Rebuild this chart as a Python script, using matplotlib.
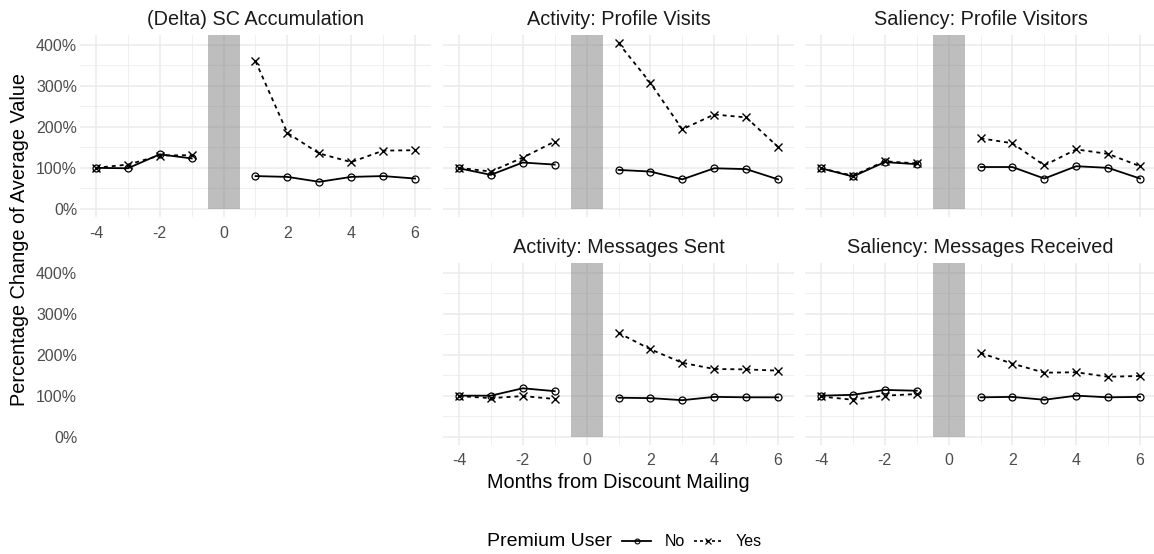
import matplotlib
matplotlib.use('Agg')
import matplotlib.pyplot as plt
from matplotlib.lines import Line2D
from matplotlib.patches import Rectangle
from matplotlib.ticker import FixedLocator, FuncFormatter

plt.rcParams['font.family'] = ['Liberation Sans', 'DejaVu Sans']
plt.rcParams['axes.unicode_minus'] = False

# ---------------- data ----------------
months = [-4, -3, -2, -1, 1, 2, 3, 4, 5, 6]
titles = ["(Delta) SC Accumulation", "Activity: Profile Visits",
          "Saliency: Profile Visitors", "Activity: Messages Sent",
          "Saliency: Messages Received"]

sc_no = [100, 99, 133, 123, 80, 78, 66, 78, 80, 74]
sc_yes = [100, 108, 130, 131, 360, 185, 135, 114, 142, 143]

visits_no = [99, 83, 113, 108, 95, 91, 72, 99, 97, 72]
visits_yes = [100, 91, 125, 164, 404, 307, 194, 230, 223, 151]

visitors_no = [99, 79, 114, 109, 102, 102, 74, 104, 100, 74]
visitors_yes = [99, 81, 116, 111, 172, 160, 106, 145, 134, 104]

sent_no = [100, 100, 118, 111, 95, 94, 89, 97, 96, 96]
sent_yes = [99, 94, 99, 92, 253, 213, 180, 165, 164, 161]

recv_no = [100, 102, 114, 112, 96, 97, 90, 100, 96, 97]
recv_yes = [98, 90, 100, 104, 204, 178, 156, 157, 146, 148]

series_no = [sc_no, visits_no, visitors_no, sent_no, recv_no]
series_yes = [sc_yes, visits_yes, visitors_yes, sent_yes, recv_yes]

x_ticks = [-4, -2, 0, 2, 4, 6]
y_ticks = [0, 100, 200, 300, 400]

# ---------------- layout ----------------
W, H = 1154, 554
fig = plt.figure(figsize=(W / 100, H / 100), dpi=100)

col_left = [80, 443, 805]
row_top = [34.8, 262.6]
pw, ph = 351, 182.4

def axrect(col, row):
    l = col_left[col]
    t = row_top[row]
    return [l / W, 1 - (t + ph) / H, pw / W, ph / H]

positions = [(0, 0), (1, 0), (2, 0), (1, 1), (2, 1)]
show_x = [True, False, False, True, True]
show_y = [True, False, False, False, False]

tick_color = '#4D4D4D'
grid_color = '#EBEBEB'
pct = FuncFormatter(lambda v, p: f"{int(round(v))}%")

xlim = (-4.5, 6.5)
ylim = (-20.2, 424.2)
dash = (0, (2.2, 2.2))

def style_axes(ax, showx, showy):
    ax.set_xlim(*xlim)
    ax.set_ylim(*ylim)
    for s in ax.spines.values():
        s.set_visible(False)
    ax.xaxis.set_major_locator(FixedLocator(x_ticks))
    ax.xaxis.set_minor_locator(FixedLocator([-3, -1, 1, 3, 5]))
    ax.yaxis.set_major_locator(FixedLocator(y_ticks))
    ax.yaxis.set_minor_locator(FixedLocator([50, 150, 250, 350]))
    ax.yaxis.set_major_formatter(pct)
    ax.grid(True, which='major', color=grid_color, lw=1.1, zorder=0)
    ax.grid(True, which='minor', color=grid_color, lw=0.55, zorder=0)
    ax.set_axisbelow(True)
    ax.tick_params(which='both', length=0, colors=tick_color, labelsize=11.5)
    ax.tick_params(axis='x', pad=6)
    ax.tick_params(axis='y', pad=2)
    if not showx:
        ax.tick_params(axis='x', labelbottom=False)
    if not showy:
        ax.tick_params(axis='y', labelleft=False)

pre = slice(0, 4)
post = slice(4, 10)

for i, (col, row) in enumerate(positions):
    ax = fig.add_axes(axrect(col, row))
    style_axes(ax, show_x[i], show_y[i])
    ax.add_patch(Rectangle((-0.5, 0), 1, 1000, facecolor='#7F7F7F', alpha=0.5,
                           edgecolor='none', zorder=1))
    for seg in (pre, post):
        ax.plot(months[seg], series_no[i][seg], color='black', lw=1.3,
                marker='o', ms=5, mfc='none', mec='black', mew=0.9, zorder=3)
        ax.plot(months[seg], series_yes[i][seg], color='black', lw=1.3,
                ls=dash, marker='x', ms=5.5, mec='black', mew=1.0, zorder=3)
    ax.set_title(titles[i], fontsize=14.3, color='#1A1A1A', pad=7)

# empty slot: y axis labels only for row 2
ax_e = fig.add_axes(axrect(0, 1))
ax_e.set_xlim(*xlim)
ax_e.set_ylim(*ylim)
for s in ax_e.spines.values():
    s.set_visible(False)
ax_e.set_facecolor('none')
ax_e.set_xticks([])
ax_e.yaxis.set_major_locator(FixedLocator(y_ticks))
ax_e.yaxis.set_major_formatter(pct)
ax_e.tick_params(axis='y', length=0, colors=tick_color, labelsize=11.5, pad=2)

# axis titles
fig.text(20 / W, 1 - 240 / H, "Percentage Change of Average Value", rotation=90,
         ha='center', va='center', fontsize=14.3, color='black')
fig.text(618 / W, 1 - 483 / H, "Months from Discount Mailing",
         ha='center', va='center', fontsize=14.3, color='black')

# legend (manual)
ly = 1 - 541 / H
fig.text(487 / W, ly, "Premium User", ha='left', va='center', fontsize=14.0, color='black')
fig.add_artist(Line2D([622 / W, 651 / W], [ly, ly], transform=fig.transFigure,
                      color='black', lw=1.3))
fig.add_artist(Line2D([636.5 / W], [ly], transform=fig.transFigure, marker='o', ms=3.5,
                      mfc='none', mec='black', mew=0.8, ls='none'))
fig.text(665 / W, ly, "No", ha='left', va='center', fontsize=11.5, color='black')
fig.add_artist(Line2D([694 / W, 721 / W], [ly, ly], transform=fig.transFigure,
                      color='black', lw=1.2, ls=(0, (1.8, 1.8))))
fig.add_artist(Line2D([707.5 / W], [ly], transform=fig.transFigure, marker='x', ms=4,
                      mec='black', mew=0.9, ls='none'))
fig.text(736 / W, ly, "Yes", ha='left', va='center', fontsize=11.5, color='black')

fig.savefig('out.png', dpi=100, facecolor='white')
